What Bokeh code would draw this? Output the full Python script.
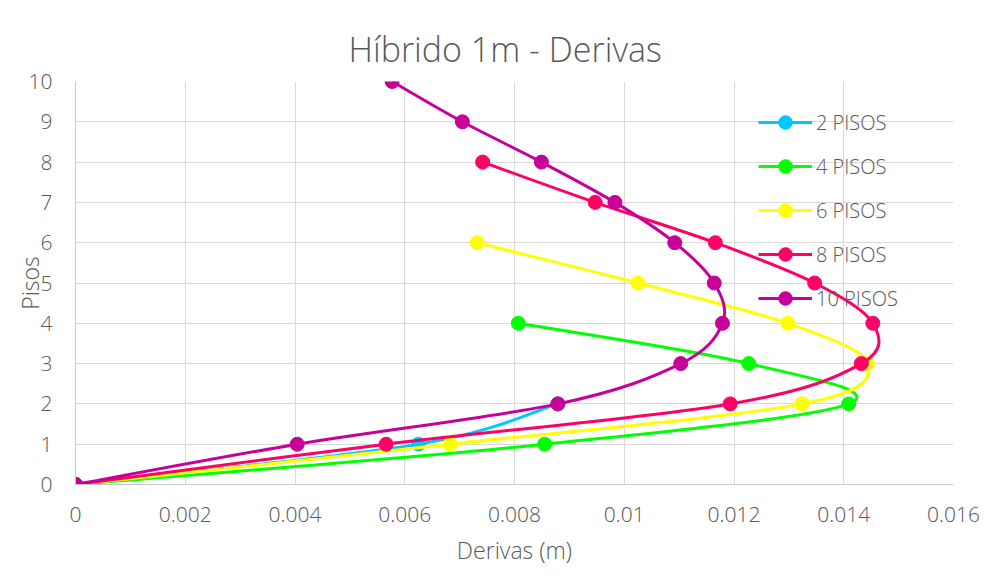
from bokeh.plotting import figure
from bokeh.models import Range1d, FixedTicker, Legend, LegendItem, ColumnDataSource
from bokeh.embed import file_html
from bokeh.resources import INLINE

# ---- data ----
series_names = ["2 PISOS", "4 PISOS", "6 PISOS", "8 PISOS", "10 PISOS"]
series_colors = ["#00C8FF", "#00FF00", "#FFFF00", "#FF0066", "#C8009A"]

deriv_2 = [0.0, 0.00625, 0.00879]
deriv_4 = [0.0, 0.00855, 0.01409, 0.01227, 0.00807]
deriv_6 = [0.0, 0.00683, 0.01324, 0.01443, 0.01298, 0.01025, 0.00732]
deriv_8 = [0.0, 0.00566, 0.01193, 0.01432, 0.01453, 0.01347, 0.01166, 0.00947, 0.00742]
deriv_10 = [0.0, 0.00404, 0.00879, 0.01103, 0.01179, 0.01164, 0.01092, 0.00983, 0.00849, 0.00705, 0.00577]

x_ticks = [0, 0.002, 0.004, 0.006, 0.008, 0.010, 0.012, 0.014, 0.016]
x_tick_labels = ["0", "0.002", "0.004", "0.006", "0.008", "0.01", "0.012", "0.014", "0.016"]
y_ticks = [0, 1, 2, 3, 4, 5, 6, 7, 8, 9, 10]

all_series = [deriv_2, deriv_4, deriv_6, deriv_8, deriv_10]

FONT = "Open Sans Light"
TXT = "#595959"

p = figure(width=984, height=576, output_backend="svg", toolbar_location=None,
           x_range=Range1d(0, 0.016), y_range=Range1d(0, 10),
           min_border_left=75, min_border_right=31, min_border_top=81, min_border_bottom=92)

p.title.text = "Híbrido 1m - Derivas"
p.title.align = "left"
p.title.text_font = FONT
p.title.text_font_size = "34px"
p.title.text_font_style = "normal"
p.title.text_color = TXT
p.title.standoff = 19
p.title.offset = 273

p.outline_line_color = None
p.background_fill_color = "white"
p.border_fill_color = "white"

p.xaxis.ticker = FixedTicker(ticks=x_ticks)
p.xaxis.major_label_overrides = {t: l for t, l in zip(x_ticks, x_tick_labels)}
p.yaxis.ticker = FixedTicker(ticks=y_ticks)

for ax in (p.xaxis[0], p.yaxis[0]):
    ax.major_tick_line_color = None
    ax.minor_tick_line_color = None
    ax.axis_line_color = "#c8c8c8"
    ax.axis_line_width = 1
    ax.major_label_text_font = FONT
    ax.major_label_text_font_size = "21px"
    ax.major_label_text_color = TXT
    ax.axis_label_text_font = FONT
    ax.axis_label_text_font_size = "23px"
    ax.axis_label_text_font_style = "normal"
    ax.axis_label_text_color = TXT

p.xaxis.axis_label = "Derivas (m)"
p.yaxis.axis_label = "Pisos"
p.xaxis.major_label_standoff = 16
p.yaxis.major_label_standoff = 17
p.xaxis.axis_label_standoff = 9
p.yaxis.axis_label_standoff = -20

p.xgrid.ticker = FixedTicker(ticks=x_ticks)
p.ygrid.ticker = FixedTicker(ticks=y_ticks)
p.grid.grid_line_color = "#d9d9d9"
p.grid.grid_line_width = 1


def smooth_controls(xs, ys):
    n = len(xs)
    x0, y0, x1, y1, cx0, cy0, cx1, cy1 = [], [], [], [], [], [], [], []
    for i in range(n - 1):
        a = i - 1 if i > 0 else i
        d = i + 2 if i + 2 < n else i + 1
        x0.append(xs[i]); y0.append(ys[i])
        x1.append(xs[i + 1]); y1.append(ys[i + 1])
        cx0.append(xs[i] + (xs[i + 1] - xs[a]) / 6.0)
        cy0.append(ys[i] + (ys[i + 1] - ys[a]) / 6.0)
        cx1.append(xs[i + 1] - (xs[d] - xs[i]) / 6.0)
        cy1.append(ys[i + 1] - (ys[d] - ys[i]) / 6.0)
    return dict(x0=x0, y0=y0, x1=x1, y1=y1, cx0=cx0, cy0=cy0, cx1=cx1, cy1=cy1)


items = []
for name, color, xs in zip(series_names, series_colors, all_series):
    ys = list(range(len(xs)))
    src = ColumnDataSource(smooth_controls(xs, ys))
    r1 = p.bezier(x0="x0", y0="y0", x1="x1", y1="y1", cx0="cx0", cy0="cy0",
                  cx1="cx1", cy1="cy1", source=src, line_color=color, line_width=3)
    r2 = p.scatter(xs, ys, size=14, marker="circle", fill_color=color, line_color=color)
    items.append(LegendItem(label=name, renderers=[r1, r2]))

legend = Legend(items=items, location=(683, 169), orientation="vertical",
                background_fill_alpha=0, border_line_color=None,
                padding=0, margin=0, spacing=10,
                glyph_width=54, glyph_height=34, label_height=34,
                label_standoff=4,
                label_text_font=FONT, label_text_font_size="20px", label_text_color=TXT)
p.add_layout(legend, "center")

open("out.html", "w").write(file_html(p, INLINE))
